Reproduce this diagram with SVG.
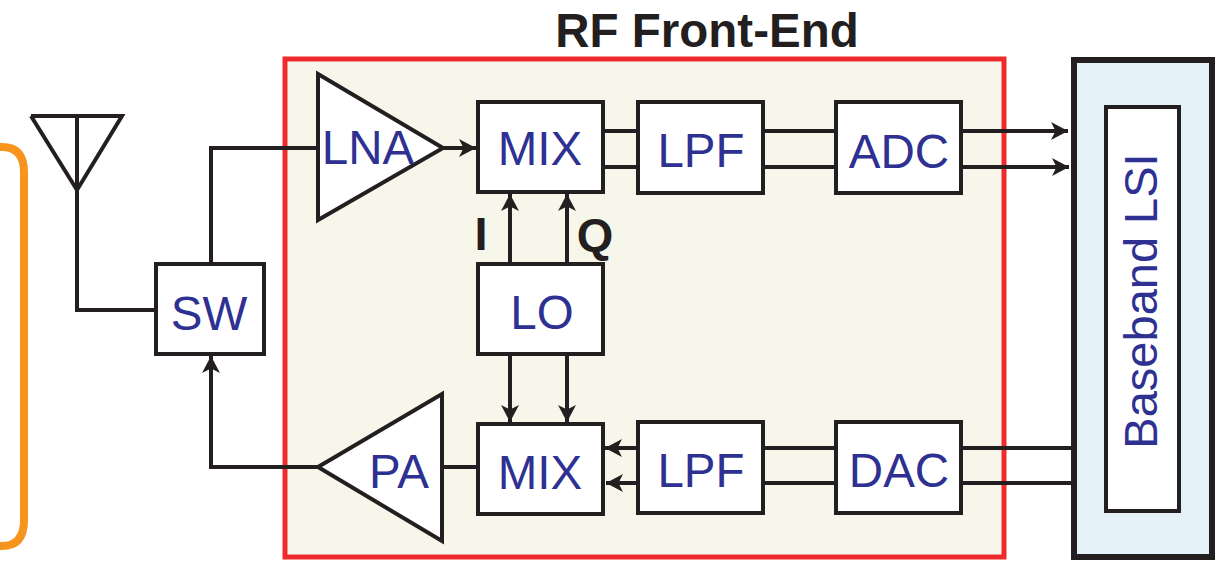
<svg xmlns="http://www.w3.org/2000/svg" width="1215" height="567" viewBox="0 0 1215 567">
<style>
.b{fill:#fff;stroke:#231f20;stroke-width:4}
.w{fill:none;stroke:#231f20;stroke-width:4}
.t{font-family:"Liberation Sans",Arial,sans-serif;fill:#2e3192;font-size:47.500px;text-anchor:middle}
.v{font-size:47px}
.k{font-family:"Liberation Sans",Arial,sans-serif;fill:#231f20;font-weight:bold;text-anchor:middle}
</style>
<defs>
<marker id="a" markerUnits="userSpaceOnUse" markerWidth="20" markerHeight="20" refX="17" refY="10" orient="auto"><path d="M0 1L17 10L0 19L4.500 10Z" fill="#231f20"/></marker>
</defs>
<path d="M-10 147H2Q24 147 24 172V520Q24 546 2 546H-10" fill="none" stroke="#f7941d" stroke-width="8"/>
<rect x="285" y="59" width="719" height="498" fill="#f6f7ea" stroke="#ee2a2e" stroke-width="5"/>
<text class="k" x="707" y="47" font-size="47.500">RF Front-End</text>
<g id="connectors">
<path class="w" d="M31 116H122L77 190L31 116M77 116V310H157"/>
<path class="w" d="M211 264V148H318"/>
<path class="w" d="M442 148H476" marker-end="url(#a)"/>
<path class="w" d="M604 131H638M604 167H638M763 131H836M763 167H836"/>
<path class="w" d="M961 131H1068" marker-end="url(#a)"/>
<path class="w" d="M961 167H1069" marker-end="url(#a)"/>
<path class="w" d="M510 264V194" marker-end="url(#a)"/>
<path class="w" d="M567 264V194" marker-end="url(#a)"/>
<path class="w" d="M510 354V422" marker-end="url(#a)"/>
<path class="w" d="M567 354V422" marker-end="url(#a)"/>
<path class="w" d="M638 448H605" marker-end="url(#a)"/>
<path class="w" d="M638 483H606" marker-end="url(#a)"/>
<path class="w" d="M763 448H836M763 483H836M961 448H1073M961 483H1073"/>
<path class="w" d="M444 467H477"/>
<path class="w" d="M318 467H211V356" marker-end="url(#a)"/>
</g>
<g id="sw"><rect class="b" x="156" y="264" width="108" height="90"/><text class="t" x="209" y="330">SW</text></g>
<g id="lna"><path class="b" d="M318 74L443 148L318 220Z"/><text class="t" x="368" y="164">LNA</text></g>
<g id="mix1"><rect class="b" x="478" y="102" width="125" height="90"/><text class="t" x="540" y="165">MIX</text></g>
<g id="lpf1"><rect class="b" x="638" y="102" width="125" height="91"/><text class="t" x="701" y="167">LPF</text></g>
<g id="adc"><rect class="b" x="836" y="102" width="125" height="91"/><text class="t" x="899" y="168">ADC</text></g>
<g id="lo"><rect class="b" x="478" y="264" width="125" height="90"/><text class="t" x="542" y="329">LO</text></g>
<g id="pa"><path class="b" d="M318 467L442 394V541Z"/><text class="t" x="399" y="488">PA</text></g>
<g id="mix2"><rect class="b" x="478" y="424" width="125" height="90"/><text class="t" x="540" y="489">MIX</text></g>
<g id="lpf2"><rect class="b" x="638" y="422" width="125" height="91"/><text class="t" x="701" y="487">LPF</text></g>
<g id="dac"><rect class="b" x="836" y="422" width="125" height="91"/><text class="t" x="899" y="487">DAC</text></g>
<text class="k" x="481" y="250" font-size="47">I</text>
<text class="k" x="595" y="251" font-size="47">Q</text>
<g id="baseband"><rect x="1074" y="60" width="138" height="497" fill="#e4f1f8" stroke="#231f20" stroke-width="6"/>
<rect class="b" x="1106" y="107" width="73" height="404"/>
<text class="t v" transform="translate(1157 301) rotate(-90)">Baseband LSI</text></g>
</svg>
